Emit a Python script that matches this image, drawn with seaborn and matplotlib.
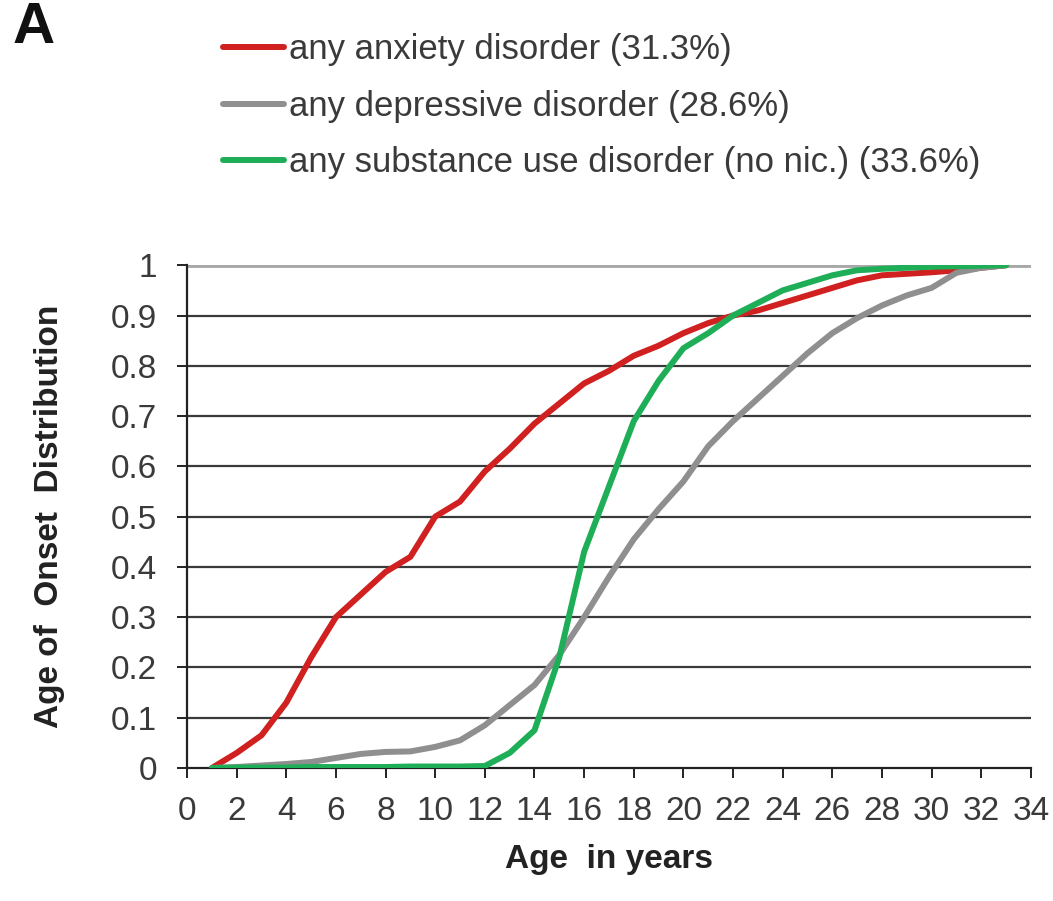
import matplotlib.pyplot as plt
import numpy as np
import pandas as pd
import seaborn as sns

# 0. Data
ages = list(range(1, 34))
anxiety = [0.0, 0.03, 0.065, 0.13, 0.22, 0.30, 0.345, 0.39, 0.42, 0.50, 0.53,
           0.59, 0.635, 0.685, 0.725, 0.765, 0.79, 0.82, 0.84, 0.865, 0.885,
           0.90, 0.91, 0.925, 0.94, 0.955, 0.97, 0.98, 0.983, 0.986, 0.99,
           0.995, 1.0]
depressive = [0.0, 0.002, 0.005, 0.008, 0.012, 0.02, 0.028, 0.032, 0.033,
              0.042, 0.055, 0.085, 0.125, 0.165, 0.225, 0.30, 0.38, 0.455,
              0.515, 0.57, 0.64, 0.69, 0.735, 0.78, 0.825, 0.865, 0.895,
              0.92, 0.94, 0.955, 0.985, 0.995, 1.0]
substance = [0.0, 0.001, 0.001, 0.001, 0.002, 0.002, 0.002, 0.002, 0.003,
             0.003, 0.003, 0.004, 0.03, 0.075, 0.22, 0.43, 0.56, 0.69, 0.77,
             0.835, 0.865, 0.90, 0.925, 0.95, 0.965, 0.98, 0.99, 0.993,
             0.995, 0.997, 0.998, 0.999, 1.0]
series_labels = ["any anxiety disorder (31.3%)",
                 "any depressive disorder (28.6%)",
                 "any substance use disorder (no nic.) (33.6%)"]
series_colors = ["#d0201f", "#8f8f8f", "#1fae58"]
x_ticks = list(range(0, 35, 2))
y_ticks = [0, 0.1, 0.2, 0.3, 0.4, 0.5, 0.6, 0.7, 0.8, 0.9, 1]
y_tick_labels = ["0", "0.1", "0.2", "0.3", "0.4", "0.5", "0.6", "0.7", "0.8",
                 "0.9", "1"]

df = pd.DataFrame({
    "age": ages * 3,
    "value": anxiety + depressive + substance,
    "series": ([series_labels[0]] * len(ages) + [series_labels[1]] * len(ages)
               + [series_labels[2]] * len(ages)),
})

# 1. Figure setup
sns.set_style("white")
plt.rcParams["font.family"] = ["Liberation Sans", "DejaVu Sans"]
fig = plt.figure(figsize=(10.53, 9.01), dpi=100)
ax = fig.add_axes([0.1776, 0.1476, 0.8014, 0.558])

# 2. Grid lines behind the data
for y in y_ticks[1:-1]:
    ax.axhline(y, color="#3a3a3a", lw=1.6, zorder=1)
ax.axhline(1, color="#a8a8a8", lw=3.5, zorder=1)

sns.lineplot(data=df, x="age", y="value", hue="series",
             palette=dict(zip(series_labels, series_colors)),
             linewidth=4.3, ax=ax, zorder=3, legend=True)

# 3. Axes styling
ax.set_xlim(0, 34)
ax.set_ylim(0, 1)
ax.set_xticks(x_ticks)
ax.set_yticks(y_ticks)
ax.set_yticklabels(y_tick_labels)
for side in ["top", "right"]:
    ax.spines[side].set_visible(False)
ax.spines["left"].set_color("#222222")
ax.spines["bottom"].set_color("#222222")
ax.spines["left"].set_linewidth(1.6)
ax.spines["bottom"].set_linewidth(1.6)
ax.tick_params(axis="both", direction="out", length=7.5, width=1.4,
               color="#222222", labelsize=24, labelcolor="#3a3a3a",
               left=True, bottom=True)
ax.tick_params(axis="x", pad=13)
ax.tick_params(axis="y", pad=14)
ax.set_xlabel("Age  in years", fontsize=24, fontweight="bold",
              color="#222222", labelpad=12)
ax.set_ylabel("Age of  Onset  Distribution", fontsize=24, fontweight="bold",
              color="#222222", labelpad=33)

# 4. Legend and panel label
ax.legend(loc="upper left", bbox_to_anchor=(0.182, 0.998),
          bbox_transform=fig.transFigure, frameon=False, fontsize=25,
          handlelength=1.75, handletextpad=0.14, labelspacing=0.68,
          labelcolor="#3a3a3a")
fig.text(0.012, 0.999, "A", fontsize=42, fontweight="bold", va="top",
         ha="left", color="#111111")

plt.savefig("out.png", dpi=100)
